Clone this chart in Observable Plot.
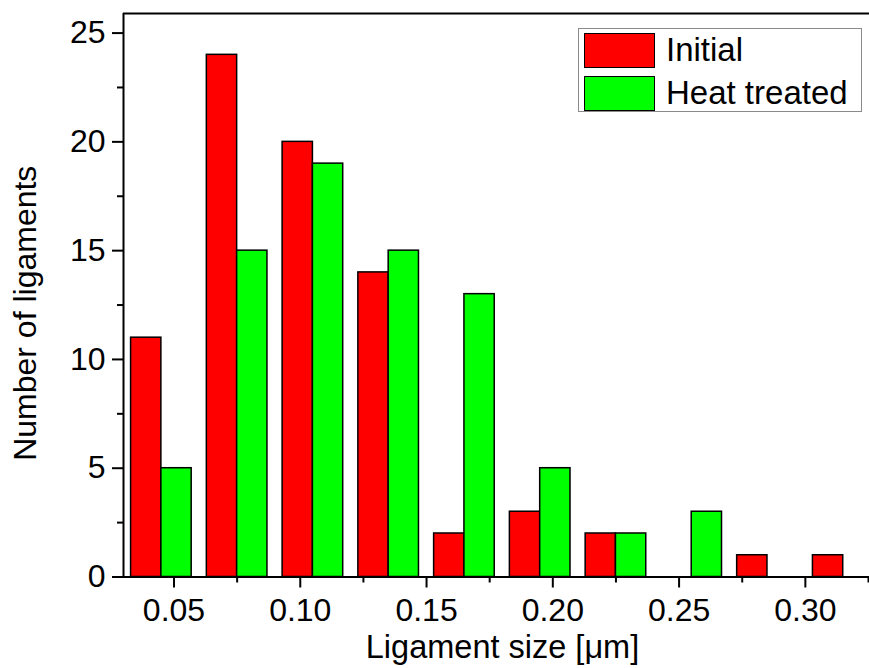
<!DOCTYPE html>
<html><head><meta charset="utf-8">
<script src="https://cdn.jsdelivr.net/npm/d3@7"></script>
<script src="https://cdn.jsdelivr.net/npm/@observablehq/plot@0.6"></script>
<style>
body{margin:0;background:#fff;font-family:"Liberation Sans",Arial,sans-serif;}
#wrap{position:relative;width:869px;height:668px;overflow:hidden;background:#fff;}
.legend{position:absolute;left:578px;top:28px;width:284px;height:84px;border:1px solid #8a8a8a;box-sizing:border-box;background:#fff;}
.item{position:absolute;left:5px;height:36px;display:flex;align-items:center;}
.sw{width:71px;height:35px;border:1.5px solid #000;box-sizing:border-box;}
.lab{margin-left:11px;font-size:33px;line-height:36px;color:#000;white-space:nowrap;}
</style></head><body><div id="wrap"></div>
<script>
const binCenters = [0.045, 0.075, 0.105, 0.135, 0.165, 0.195, 0.225, 0.255, 0.285, 0.315];
const initial = [11, 24, 20, 14, 2, 3, 2, 0, 1, 1];
const heatTreated = [5, 15, 19, 15, 13, 5, 2, 3, 0, 0];
const seriesNames = ["Initial", "Heat treated"];
const seriesColors = ["#ff0000", "#00ff00"];
const xMajorTicks = [0.05, 0.10, 0.15, 0.20, 0.25, 0.30];
const xMinorTicks = [0.075, 0.125, 0.175, 0.225, 0.275, 0.325];
const yMajorTicks = [0, 5, 10, 15, 20, 25];
const yMinorTicks = [2.5, 7.5, 12.5, 17.5, 22.5];
const xTitle = "Ligament size [\u03BCm]";
const yTitle = "Number of ligaments";

const xMin = 0.03, xMax = 0.3254, yMax = 25.9;
const barW = 0.012;

const rows = binCenters.flatMap((c, i) => [
  {series: seriesNames[0], x1: c - barW, x2: c, y: initial[i]},
  {series: seriesNames[1], x1: c, x2: c + barW, y: heatTreated[i]}
]).filter(d => d.y > 0);

const font = '"Liberation Sans", Arial, sans-serif';

const chart = Plot.plot({
  width: 869, height: 668,
  marginLeft: 123, marginRight: 0, marginTop: 13, marginBottom: 91.5,
  x: {domain: [xMin, xMax]},
  y: {domain: [0, yMax]},
  color: {domain: seriesNames, range: seriesColors},
  style: {fontFamily: font, fontSize: "32px", color: "#000", background: "white", overflow: "hidden"},
  marks: [
    Plot.rectY(rows, {x1: "x1", x2: "x2", y: "y", fill: "series", stroke: "#000", strokeWidth: 1.5}),
    Plot.ruleY([0], {stroke: "#000", strokeWidth: 2}),
    Plot.ruleY([yMax], {stroke: "#000", strokeWidth: 2}),
    Plot.ruleX([xMin], {stroke: "#000", strokeWidth: 2}),
    Plot.axisX({ticks: xMajorTicks, tickSize: 11, tickPadding: 10, tickFormat: d => d.toFixed(2), strokeWidth: 2, label: null, fontSize: 32}),
    Plot.axisX({ticks: xMinorTicks, tickSize: 6, tickFormat: () => "", strokeWidth: 2, label: null}),
    Plot.axisY({ticks: yMajorTicks, tickSize: 11, tickPadding: 7, tickFormat: d => String(d), strokeWidth: 2, label: null, fontSize: 32}),
    Plot.axisY({ticks: yMinorTicks, tickSize: 6, tickFormat: () => "", strokeWidth: 2, label: null}),
    Plot.text([yTitle], {frameAnchor: "left", text: d => d, rotate: -90, dx: -98, dy: 18, fontSize: 32, textAnchor: "middle", lineAnchor: "middle"}),
    Plot.text([xTitle], {frameAnchor: "bottom", text: d => d, dx: 6, dy: 70.5, fontSize: 32.5, textAnchor: "middle", lineAnchor: "middle"})
  ]
});

const wrap = document.getElementById("wrap");
wrap.appendChild(chart);

const legend = document.createElement("div");
legend.className = "legend";
seriesNames.forEach((name, i) => {
  const item = document.createElement("div");
  item.className = "item";
  item.style.top = (3 + i * 43) + "px";
  const sw = document.createElement("div");
  sw.className = "sw";
  sw.style.background = seriesColors[i];
  const lab = document.createElement("span");
  lab.className = "lab";
  lab.textContent = name;
  item.appendChild(sw);
  item.appendChild(lab);
  legend.appendChild(item);
});
wrap.appendChild(legend);
</script>
</body></html>
